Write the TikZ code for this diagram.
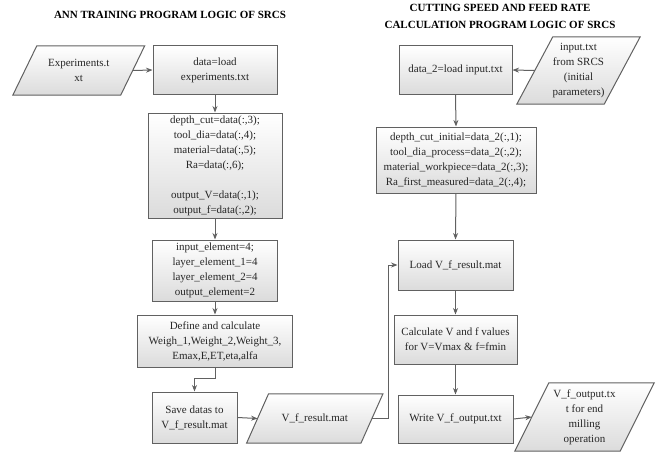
\documentclass[tikz,border=0pt]{standalone}
\usepackage{fontspec}
\setmainfont{Liberation Serif}
\usetikzlibrary{arrows.meta}
\begin{document}
\begin{tikzpicture}[x=1pt,y=-1pt,
  every node/.style={font=\fontsize{11}{15}\selectfont, align=center, inner sep=0pt, text=black!85},
  box/.style={draw=black!62, line width=1pt, top color=white, bottom color=black!14},
  pbody/.style={draw=none, fill=none},
  pshape/.style={draw=black!62, line width=1pt, top color=white, bottom color=black!14},
  conn/.style={draw=black!62, line width=1pt, -{Stealth[length=6.5pt,width=5pt,fill=black!80]}},
  title/.style={font=\fontsize{11}{17}\selectfont\bfseries, text=black}]
\useasboundingbox (0,0) rectangle (656,452);

% titles
\node[title] (t1) at (170,15) {ANN TRAINING PROGRAM LOGIC OF SRCS};
\node[title] (t2) at (500,16.5) {CUTTING SPEED AND FEED RATE\\CALCULATION PROGRAM LOGIC OF SRCS};

% left column
\node[pbody, minimum width=107.5pt, minimum height=49pt] (exp) at (78.75,70.5) {};
\path[pshape] ([xshift=-12pt]exp.south west) -- ([xshift=12pt]exp.north west) -- ([xshift=12pt]exp.north east) -- ([xshift=-12pt]exp.south east) -- cycle;
\node at (exp) {Experiments.t\\xt};

\node[box, minimum width=124pt, minimum height=48pt] (load) at (215,70) {data=load\\experiments.txt};
\node[box, minimum width=134pt, minimum height=105pt] (cols) at (215,165.5)
  {depth\_cut=data(:,3);\\tool\_dia=data(:,4);\\material=data(:,5);\\Ra=data(:,6);\\[15pt]output\_V=data(:,1);\\output\_f=data(:,2);};
\node[box, minimum width=125pt, minimum height=61pt] (elem) at (215,270.5)
  {input\_element=4;\\layer\_element\_1=4\\layer\_element\_2=4\\output\_element=2};
\node[box, minimum width=155pt, minimum height=52pt] (def) at (215,341)
  {Define and calculate\\Weigh\_1,Weight\_2,Weight\_3,\\Emax,E,ET,eta,alfa};
\node[box, minimum width=85pt, minimum height=51pt] (save) at (194.5,417.5) {Save datas to\\V\_f\_result.mat};

\node[pbody, minimum width=114pt, minimum height=49pt] (vfres) at (314.75,418.5) {};
\path[pshape] ([xshift=-11pt]vfres.south west) -- ([xshift=11pt]vfres.north west) -- ([xshift=11pt]vfres.north east) -- ([xshift=-11pt]vfres.south east) -- cycle;
\node at (vfres) {V\_f\_result.mat};

% right column
\node[box, minimum width=113pt, minimum height=48pt] (data2) at (455.5,70) {data\_2=load input.txt};

\node[pbody, minimum width=87pt, minimum height=67pt] (inp) at (578.5,70.5) {};
\path[pshape] ([xshift=-18pt]inp.south west) -- ([xshift=18pt]inp.north west) -- ([xshift=18pt]inp.north east) -- ([xshift=-18pt]inp.south east) -- cycle;
\node at (inp) {input.txt\\from SRCS\\(initial\\parameters)};

\node[box, minimum width=160pt, minimum height=66pt] (cols2) at (456,160)
  {depth\_cut\_initial=data\_2(:,1);\\tool\_dia\_process=data\_2(:,2);\\material\_workpiece=data\_2(:,3);\\Ra\_first\_measured=data\_2(:,4);};
\node[box, minimum width=115pt, minimum height=50pt] (loadvf) at (455.5,265) {Load V\_f\_result.mat};
\node[box, minimum width=123pt, minimum height=49pt] (calc) at (455.5,339.5) {Calculate V and f values\\for V=Vmax \& f=fmin};
\node[box, minimum width=115pt, minimum height=48pt] (write) at (455.5,419) {Write V\_f\_output.txt};

\node[pbody, minimum width=105pt, minimum height=68pt] (out) at (584.5,417) {};
\path[pshape] ([xshift=-17pt]out.south west) -- ([xshift=17pt]out.north west) -- ([xshift=17pt]out.north east) -- ([xshift=-17pt]out.south east) -- cycle;
\node at (out) {V\_f\_output.tx\\t for end\\milling\\operation};

% connectors
\draw[conn] (exp.east) -- (load.west);
\draw[conn] (load.south) -- (cols.north);
\draw[conn] (cols.south) -- (elem.north);
\draw[conn] (elem.south) -- (def.north);
\draw[conn] (def.south) -- ++(0,11) -| (save.north);
\draw[conn] (save.east) -- (vfres.west);
\draw[conn] (vfres.east) -- ++(17,0) |- (loadvf.west);
\draw[conn] (inp.west) -- (data2.east);
\draw[conn] (data2.south) -- (cols2.north);
\draw[conn] (cols2.south) -- (loadvf.north);
\draw[conn] (loadvf.south) -- (calc.north);
\draw[conn] (calc.south) -- (write.north);
\draw[conn] (write.east) -- (out.west);
\end{tikzpicture}
\end{document}
